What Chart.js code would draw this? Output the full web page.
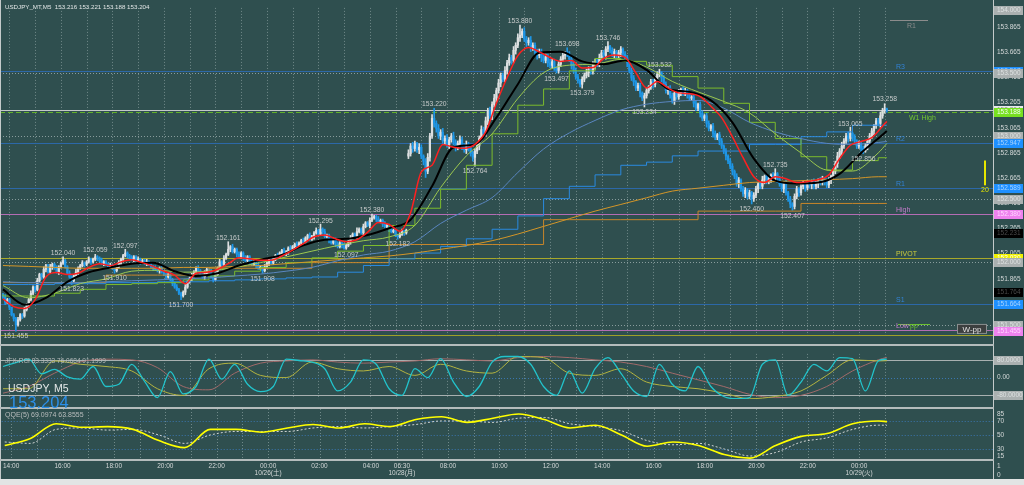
<!DOCTYPE html>
<html>
<head>
<meta charset="utf-8">
<title>USDJPY M5</title>
<script src="https://cdn.jsdelivr.net/npm/chart.js@4.4.1/dist/chart.umd.min.js"></script>
<style>
  html, body { margin: 0; padding: 0; background: #2f4f4f; overflow: hidden; }
  body { width: 1024px; height: 485px; position: relative; font-family: 'Liberation Sans', Arial, sans-serif; }
  canvas { position: absolute; left: 0; }
  .sep { position: absolute; left: 0; width: 994px; height: 2px; background: #b4bcbc; }
  #strip { position: absolute; left: 0; top: 479px; width: 1024px; height: 6px; background: #e2e4e4; }
  #sym { position: absolute; left: 8px; top: 383px; color: #e4e8e8; font-size: 10.5px; line-height: 1; }
  #last { position: absolute; left: 9px; top: 394px; color: #2b8fe8; font-size: 16.5px; line-height: 1; }
</style>
</head>
<body>
<canvas id="cMain" width="1024" height="344" style="top:0"></canvas>
<div class="sep" style="top:344px"></div>
<canvas id="cRci" width="1024" height="61" style="top:346px"></canvas>
<div class="sep" style="top:407px"></div>
<canvas id="cQqe" width="1024" height="70" style="top:409px"></canvas>
<div id="strip"></div>
<div id="sym"></div>
<div id="last"></div>
<script>
// ---------- data (prices in pips above 150.00, i.e. 322 = 153.22) ----------
const symbolName = 'USDJPY_MT,M5';
const symbolShort = 'USDJPY, M5';
const lastBar = [153.216, 153.221, 153.188, 153.204];   // O H L C of the last bar

const closePips = [
  172,168,170,164,158,155,150,154,158,157, 162,166,170,175,180,178,185,190,188,194,
  197,192,196,198,195,192,196,199,201,196, 191,188,185,189,192,195,197,199,198,200,
  202,200,202,204,203,201,199,200,198,196, 197,195,193,196,199,202,205,207,205,203,
  202,204,201,202,200,201,199,200,198,196, 195,194,193,195,192,190,188,190,186,183,
  180,178,175,173,176,180,184,187,189,192, 195,193,190,188,191,194,192,188,186,190,
  195,200,198,203,206,210,212,208,210,206, 204,207,203,201,204,200,198,201,197,195,
  196,193,196,199,201,199,203,205,204,207, 209,206,208,211,210,212,214,213,215,217,
  216,219,221,218,220,223,225,222,226,224, 220,221,217,215,218,214,212,215,213,211,
  213,216,219,222,220,224,226,223,228,231, 229,233,235,236,234,232,233,230,228,229,
  226,224,225,221,220,222,224,223,225,286, 292,290,294,289,291,284,280,272,283,300,
  314,310,306,300,303,296,298,293,297,300, 295,291,294,297,292,289,293,290,286,283,
  288,292,298,305,302,312,320,316,325,330, 336,342,348,345,352,358,362,360,368,372,
  378,380,383,377,374,376,370,372,366,364, 367,362,360,363,358,356,359,354,352,357,
  361,364,366,365,361,356,352,347,344,341, 345,348,350,353,351,356,359,357,362,366,
  364,369,371,368,365,367,364,366,369,365, 362,358,352,346,343,338,340,334,330,332,
  336,339,343,341,346,349,350,346,341,336, 338,332,328,334,331,335,337,334,336,333,
  330,331,326,322,325,318,314,316,310,306, 308,302,299,301,296,292,288,284,280,276,
  272,268,262,265,258,254,257,252,255,250, 253,258,262,260,265,268,264,266,269,267,
  270,266,262,258,263,255,250,246,244,252, 258,255,260,262,259,263,261,264,260,262,
  265,263,266,264,261,265,268,272,278,284, 288,292,296,300,298,302,299,296,292,294,
  290,288,292,296,300,304,308,312,310,316, 320,321.6,320.4
];
const upWick = [
  1,2,1,1,0,1,1,2,1,1, 2,1,1,2,1,1,2,1,1,2, 1,1,2,1,1,2,1,1,3,1, 1,2,1,1,2,1,1,2,1,1,
  2,1,1,2,1,1,2,1,1,1, 2,1,1,1,2,1,1,3,1,1, 2,1,1,2,1,1,1,2,1,1, 1,2,1,1,2,1,1,1,2,1,
  1,2,1,1,1,2,1,1,2,1, 1,2,1,1,2,1,1,2,1,2, 1,2,1,2,1,6,1,2,1,1, 2,1,1,2,1,1,2,1,1,2,
  1,1,2,1,1,2,1,1,2,1, 1,2,1,1,2,1,1,2,1,1, 2,1,1,2,1,1,2,1,4,1, 2,1,1,2,1,1,2,1,1,2,
  1,1,2,1,1,3,1,1,2,1, 1,2,3,1,1,2,1,1,2,1, 1,2,1,1,1,1,2,1,1,3, 2,3,2,1,3,2,1,2,3,2,
  3,8,2,3,2,3,2,3,2,2, 3,2,2,3,2,2,3,2,2,2, 2,3,2,3,2,3,2,3,2,3, 2,3,2,2,3,2,3,2,3,2,
  3,8,2,3,2,2,3,2,2,3, 2,2,3,2,2,3,2,2,1,2, 2,3,1,4,2,2,3,2,2,1, 2,2,3,2,2,3,2,2,3,2,
  2,2,4,1,2,2,1,2,2,1, 2,2,1,2,2,1,2,2,1,2, 2,1,2,2,1,2,3,1,2,2, 1,2,2,1,2,2,1,2,2,1,
  2,1,2,2,1,2,2,1,2,2, 1,2,2,1,2,2,1,2,1,2, 2,1,2,2,1,2,2,1,2,1, 2,2,1,2,3,1,2,2,1,2,
  4,1,2,2,1,2,1,2,1,2, 2,1,2,2,1,2,2,1,2,2, 1,2,2,1,2,2,1,2,2,3, 2,3,2,2,3,5,1,2,1,2,
  1,2,2,1,2,2,1,2,2,3, 2,4,0.5
];
const downWick = [
  1,2,1,2,1,2,5,1,1,2, 1,1,2,1,1,2,1,1,2,1, 2,1,1,2,1,1,2,1,1,1, 1,1,3,1,1,2,1,1,2,1,
  1,2,1,1,2,1,1,2,1,1, 1,1,2,1,1,2,1,1,2,1, 1,2,1,1,2,1,1,2,1,1, 2,1,1,2,1,1,2,1,1,2,
  1,1,1,3,1,2,1,1,2,1, 1,2,1,1,2,1,2,1,2,1, 1,1,2,1,1,1,2,1,1,2, 1,1,2,1,1,2,1,1,2,1,
  1,2,1,1,2,1,1,2,1,1, 2,1,1,2,1,1,2,1,1,2, 1,1,2,1,1,2,1,1,1,2, 1,1,2,1,1,2,1,1,2,1,
  1,1,2,1,1,2,1,1,2,1, 1,2,1,1,2,1,1,2,1,1, 2,1,1,1,2,1,1,2,1,2, 2,3,2,2,3,2,3,5,2,3,
  2,3,3,2,3,2,3,2,3,2, 2,3,2,2,3,2,3,2,2,3, 7,2,3,2,3,2,3,2,3,2, 3,2,3,2,2,3,2,3,2,3,
  2,3,2,2,3,2,3,2,2,3, 2,3,2,2,3,2,2,2,2,2, 2,2,3,2,2,3,2,2,2,2, 3,2,2,3,2,2,3,2,2,2,
  2,3,2,2,2,3,2,2,3,2, 2,3,2,2,3,2,2,3,2,7, 2,2,2,3,2,2,2,3,2,2, 3,2,2,3,2,2,3,2,2,3,
  2,2,3,2,2,3,2,2,3,2, 2,3,2,2,3,2,2,3,2,2, 3,2,2,3,2,2,3,2,2,4, 2,2,3,2,2,3,2,2,3,2,
  2,3,2,2,3,2,2,3,3,2, 2,3,2,2,3,2,2,3,2,2, 3,2,2,3,2,2,3,2,2,3, 2,3,2,2,3,2,3,2,2,2,
  2,2,1,3,2,2,3,2,2,3, 2,2,1.6
];
const openGap = { 0: 174, 189: 284 };   // bars whose open is not the previous close (weekend gap)

// moving averages at knots (bar index)
const fastIdx = [0,5,10,15,20,25,30,35,40,45,50,55,60,65,70,75,80,85,90,95,100,105,110,115,120,125,130,135,140,145,150,155,160,165,170,175,180,185,190,195,200,205,210,215,220,225,230,235,240,245,250,255,260,265,270,275,280,285,290,295,300,305,310,315,320,325,330,335,340,345,350,355,360,365,370,375,380,385,390,395,400,405,410,412];
const maRed = [170.6,164.5,163,170,188,191.5,190,191,195.6,198.6,197,200,201.6,199.4,196.4,192.6,189.5,182.7,191,191.8,194,198.6,203.2,202.4,201.3,201.3,204.7,209.3,214.5,219.9,221.4,218.3,216,217.6,223.6,231.2,229.7,224.4,239,271.4,276.7,293.3,291,290.3,293.3,303.2,326,346.4,363.8,370.3,366.8,362.3,359.2,360,354,354.3,361.5,364.2,362.3,350.2,338.1,343.3,338.1,334.2,333.5,331.2,323.6,314.5,299.4,282.7,267.6,263,267.6,266,263,263.8,265.3,269.1,282,292.6,295.6,298.6,307.7,311.5];
const slowIdx = [0,10,20,30,40,50,60,70,80,90,100,110,120,130,140,150,160,170,180,190,200,210,220,230,240,250,260,270,280,290,300,310,320,330,340,350,360,370,380,390,400,410,412];
const maBlack = [178.2,166,171.4,184.2,191.8,195.6,198.6,199.4,192.6,188.8,191,197.1,201.7,205.5,213.1,217.6,218.3,221.4,226.7,233.5,260,291,293.3,314.5,341.1,366.1,366.8,359.2,357,360,352.4,337.3,335,328.2,310.8,282,264.5,262.2,263,269.9,286.5,300.9,304];
const hourIdx = [0,12,24,36,48,60,72,84,96,108,120,132,144,156,168,180,192,204,216,228,240,252,264,276,288,300,312,324,336,348,360,372,384,396,408,412];
const maGreen = [181.2,171.4,175.1,182.7,186.5,192.6,193.3,191.8,192.6,195.6,199.4,203.9,208.5,213,216.8,219.8,229,259,284.2,301.7,329.7,350.2,356.2,357,360.8,354.7,343.3,335,327.4,318.3,301.7,286.5,272.9,272.1,286.5,294];
const maBlue = [184.2,183.5,183.5,183.5,184.2,185,185.7,186.5,187.3,188.8,190.3,192.6,195.6,200.9,205.5,208.5,216,230.5,241,251,271,289.6,302.4,312.3,320.6,325.2,327.4,328.2,322.1,310.8,303.2,297.9,294.1,293.3,294.8,295.6];
const maOrange = [197.1,196.4,195.6,194.9,194.9,194.9,194.9,195.6,195.6,196.4,197.1,198.6,200.1,201.7,203.2,204.7,207,210,213,216.8,222.1,228.2,234.3,240.3,245.6,250.9,256.2,258.5,260.8,263,263.8,264.5,265.3,266.1,267.6,267.6];
const stepBlue = [182,182,182,182.7,182.7,183.5,183.5,184.2,184.2,185,185.7,186.5,187.3,188,191.8,197.1,202.4,207,212.3,218.3,225.9,236.5,250.2,260,269.1,276.7,279.2,284.2,288,288,293.3,293.3,299.4,303.2,308.5,308.5];
const stepGreen = [174.4,172.9,172.9,175.1,178.2,182,182.7,183.5,185.7,188.8,192.6,195.6,199.4,203.2,208.5,213,228.9,242.6,257.7,276.7,301.7,324.4,337.3,351.7,361.5,359.2,356.2,347.1,338,325.9,310.8,297.9,283.5,272.9,280.4,282.7];
const stepOrange = [183.5,183.5,183.5,183.5,183.5,189.5,189.5,189.5,189.5,194.9,194.9,194.9,194.9,199.4,199.4,199.4,213.8,213.8,213.8,213.8,213.8,213.8,233.5,233.5,233.5,233.5,233.5,233.5,240.3,240.3,240.3,240.3,246.4,246.4,246.4,246.4];

// RCI sub window
const rciIdx = [0,6,12,18,24,30,36,42,48,54,60,66,72,78,84,90,96,102,108,114,120,126,132,138,144,150,156,162,168,174,180,186,192,198,204,210,216,222,228,234,240,246,252,258,264,270,276,282,288,294,300,306,312,318,324,330,336,342,348,354,360,366,372,378,384,390,396,402,408,412];
const rciShort = [50,67,83,17,37,3,-7,50,-40,-30,60,-17,-90,27,-73,-40,83,-7,60,-30,-63,-40,83,77,70,40,-60,-20,80,60,-50,-80,40,0,85,-20,-85,-40,70,95,95,60,-40,-80,30,-70,40,90,20,-60,-85,60,-30,-60,50,-40,-85,-95,-90,60,80,-80,-20,60,30,90,85,-60,75,83.33];
const rciMid = [-50,-50,75,60,50,30,-50,-80,40,65,10,0,70,40,30,50,10,60,30,20,95,90,20,10,40,-20,-40,-50,-70,-95,-85,-60,10,80,75,76.07];
const rciLong = [-70,-40,20,70,83,80,45,-40,-55,20,65,75,80,70,65,70,75,85,80,75,90,95,90,80,70,50,20,-10,-40,-75,-90,-80,-40,30,80,91.2];
const rciTitle = 'JFX-RCI 83.3333 76.0684 91.1999';

// QQE sub window
const qqeLine = [35,45,66,61,62,58,42,32,58,58,54,60,65,60,66,62,72,76,68,74,80,72,60,64,50,34,40,35,22,17,35,48,52,66,70,69.1];
const qqeTrail = [40,38,58,60,57,58,50,38,50,55,55,55,60,62,60,62,65,70,70,68,74,75,66,62,56,42,36,38,30,20,25,40,46,58,64,63.9];
const qqeTitle = 'QQE(5) 69.0974 63.8555';

// zigzag swing labels (alternating low / high)
const zzIdx = [6,28,32,43,52,57,83,105,121,148,160,172,184,201,220,241,258,263,270,282,299,306,349,360,368,395,401,411];
const zzPrice = [151.455,152.040,151.823,152.059,151.910,152.097,151.700,152.161,151.908,152.295,152.097,152.380,152.182,153.220,152.764,153.880,153.497,153.698,153.379,153.746,153.234,153.532,152.460,152.735,152.407,153.065,152.856,153.258];

// pivot levels
const levelNames = ['R3','W1 High','R2','R1','High','PIVOT','S1','Low','W-pp'];
const levelPrices = [153.517,153.188,152.947,152.589,152.380,152.030,151.664,151.458,151.420];
const stubNames = ['R1','pp'];
const stubPrices = [153.918,151.505];
const roundLevels = [153.5,153.0,152.5,152.0,151.5];
const spreadPoints = 20;

// price axis
const priceTicks = [153.865,153.665,153.465,153.265,153.065,152.865,152.665,152.465,152.265,152.065,151.865,151.665,151.465];
const tagPrices = [154.000,153.517,153.500,153.204,153.188,153.000,152.947,152.589,152.500,152.380,152.231,152.030,152.000,151.764,151.664,151.500,151.455];
const tagKinds = ['grid','R','grid','bid','W1','grid','R','R','grid','HL','ind','P','grid','ind','R','grid','HL'];

// time axis
const timeTickIdx = [3,27,51,75,99,123,147,171,185.5,207,231,255,279,303,327,351,375,399];
const timeTickText = ['14:00','16:00','18:00','20:00','22:00',['00:00','10/26(土)'],'02:00','04:00',['06:30','10/28(月)'],'08:00','10:00','12:00','14:00','16:00','18:00','20:00','22:00',['00:00','10/29(火)']];
const hourLines = [3,15,27,39,51,63,75,87,99,111,123,135,147,159,171,183,195,207,219,231,243,255,267,279,291,303,315,327,339,351,363,375,387,399,411];

// ---------- styles ----------
const fam = "'Liberation Sans', 'Noto Sans CJK JP', Arial, sans-serif";
const f = s => s + 'px ' + fam;
const price = v => 150 + v / 100;
const levelStyle = {
  'R3':      { line: '#2c68a8', text: '#3282d4', dx: 97 },
  'W1 High': { line: '#62b02a', text: '#74c632', dx: 84, dash: [5, 3], below: true },
  'R2':      { line: '#2c68a8', text: '#3282d4', dx: 97 },
  'R1':      { line: '#2c68a8', text: '#3282d4', dx: 97 },
  'High':    { line: '#b46cb4', text: '#c47ccc', dx: 97 },
  'PIVOT':   { line: '#a8a82a', text: '#cccc3c', dx: 97 },
  'S1':      { line: '#2c68a8', text: '#3282d4', dx: 97 },
  'Low':     { line: '#b46cb4', text: '#c47ccc', dx: 97 },
  'W-pp':    { line: '#a0a028', box: true }
};
const stubStyle = {
  'R1': { line: '#8c8c8c', text: '#8c8c8c', x0: 103, x1: 65, dx: 86, below: true },
  'pp': { line: '#6cc030', text: '#6cc030', x0: 95, x1: 63, dx: 83, below: false }
};
const tagStyle = {
  grid: ['#aab0b0', '#dde1e1'],
  R:    ['#1e90ff', '#a8d4ff'],
  bid:  ['#e8eaea', '#8a8e8e'],
  W1:   ['#78e020', '#f0fff0'],
  HL:   ['#ee82ee', '#ffd6ff'],
  ind:  ['#000000', '#4a4a4a'],
  P:    ['#f0f000', '#fffff4']
};
const BULL = '#dcdfe0', BEAR = '#1e96e6';

document.getElementById('sym').textContent = symbolShort;
document.getElementById('last').textContent = lastBar[3].toFixed(3);

// ---------- candles ----------
const opens = closePips.map((c, i) => (i in openGap) ? openGap[i] : closePips[i - 1]);
const highs = closePips.map((c, i) => price(Math.max(opens[i], c) + upWick[i]));
const lows = closePips.map((c, i) => price(Math.min(opens[i], c) - downWick[i]));
const barColors = closePips.map((c, i) => c >= opens[i] ? BULL : BEAR);
const wickData = closePips.map((c, i) => ({ x: i, y: [lows[i], highs[i]] }));
const bodyData = closePips.map((c, i) => ({ x: i, y: [price(Math.min(opens[i], c)), price(Math.max(opens[i], c))] }));

const xMin = -1.4, xMax = 461.5;
const yMax = 154.0167, yMin = 151.4106;

Chart.defaults.font.family = fam;

const lineDs = (idx, vals, color, width, order, extra) => Object.assign({
  type: 'line',
  data: idx.map((x, k) => ({ x, y: vals[k] })),
  borderColor: color, borderWidth: width,
  pointRadius: 0, fill: false, tension: 0.4, cubicInterpolationMode: 'monotone', order
}, extra || {});

const hLine = (ctx, x0, x1, py) => {
  const yy = Math.round(py) + 0.5;
  ctx.beginPath(); ctx.moveTo(x0, yy); ctx.lineTo(x1, yy); ctx.stroke();
};
const tag = (chart, py, text, kind) => {
  const { ctx, chartArea: a } = chart;
  const [bg, fg] = tagStyle[kind];
  ctx.fillStyle = bg;
  ctx.fillRect(a.right + 1, Math.round(py) - 4, chart.width - a.right - 2, 9);
  ctx.fillStyle = fg;
  ctx.font = f(6.5);
  ctx.textAlign = 'left';
  ctx.textBaseline = 'middle';
  ctx.fillText(text, a.right + 4, Math.round(py) + 0.5);
};
const axisLine = chart => {
  const { ctx, chartArea: a } = chart;
  ctx.fillStyle = '#c4caca';
  ctx.fillRect(a.right, 0, 1, chart.height);
};

const hourGrid = {
  id: 'hourGrid',
  beforeDatasetsDraw(chart) {
    const { ctx, chartArea: a, scales: { x } } = chart;
    ctx.save();
    ctx.strokeStyle = 'rgba(165,185,185,0.55)';
    ctx.lineWidth = 1;
    ctx.setLineDash([1, 2]);
    hourLines.forEach(i => {
      const px = Math.round(x.getPixelForValue(i)) + 0.5;
      ctx.beginPath(); ctx.moveTo(px, a.top); ctx.lineTo(px, a.bottom); ctx.stroke();
    });
    ctx.restore();
  }
};

const mainDecor = {
  id: 'mainDecor',
  beforeDatasetsDraw(chart) {
    const { ctx, chartArea: a, scales: { y } } = chart;
    ctx.save();
    ctx.beginPath(); ctx.rect(a.left, a.top, a.right - a.left, a.bottom - a.top); ctx.clip();
    ctx.lineWidth = 1;
    ctx.setLineDash([1, 2]);
    ctx.strokeStyle = 'rgba(175,190,190,0.7)';
    roundLevels.forEach(p => hLine(ctx, a.left, a.right, y.getPixelForValue(p)));
    levelNames.forEach((n, k) => {
      const st = levelStyle[n];
      ctx.setLineDash(st.dash || []);
      ctx.strokeStyle = st.line;
      hLine(ctx, a.left, a.right, y.getPixelForValue(levelPrices[k]));
    });
    ctx.setLineDash([]);
    ctx.strokeStyle = '#c4c8c8';
    hLine(ctx, a.left, a.right, y.getPixelForValue(lastBar[3]));
    stubNames.forEach((n, k) => {
      const st = stubStyle[n];
      ctx.strokeStyle = st.line;
      hLine(ctx, a.right - st.x0, a.right - st.x1, y.getPixelForValue(stubPrices[k]));
    });
    ctx.restore();
  },
  afterDatasetsDraw(chart) {
    const { ctx, chartArea: a, scales: { x, y } } = chart;
    ctx.save();
    // swing labels
    ctx.font = f(6.8);
    ctx.fillStyle = '#c6caca';
    ctx.textAlign = 'center';
    zzIdx.forEach((i, k) => {
      const px = x.getPixelForValue(i), py = y.getPixelForValue(zzPrice[k]);
      if (k % 2 === 0) { ctx.textBaseline = 'top'; ctx.fillText(zzPrice[k].toFixed(3), px, py + 2); }
      else { ctx.textBaseline = 'alphabetic'; ctx.fillText(zzPrice[k].toFixed(3), px, py - 2); }
    });
    // level captions
    ctx.textAlign = 'left';
    ctx.font = f(7);
    levelNames.forEach((n, k) => {
      const st = levelStyle[n];
      const py = y.getPixelForValue(levelPrices[k]);
      if (st.box) {
        ctx.fillStyle = '#3c3f3f';
        ctx.fillRect(a.right - 36, py - 11, 30, 10);
        ctx.strokeStyle = '#8a9090';
        ctx.strokeRect(a.right - 35.5, py - 10.5, 29, 9);
        ctx.fillStyle = '#e4e4e4';
        ctx.font = f(8);
        ctx.textAlign = 'center';
        ctx.textBaseline = 'middle';
        ctx.fillText(n, a.right - 21, py - 5.5);
        ctx.textAlign = 'left';
        ctx.font = f(7);
        return;
      }
      ctx.fillStyle = st.text;
      if (st.below) { ctx.textBaseline = 'top'; ctx.fillText(n, a.right - st.dx, py + 2); }
      else { ctx.textBaseline = 'alphabetic'; ctx.fillText(n, a.right - st.dx, py - 2); }
    });
    stubNames.forEach((n, k) => {
      const st = stubStyle[n];
      const py = y.getPixelForValue(stubPrices[k]);
      ctx.fillStyle = st.text;
      if (st.below) { ctx.textBaseline = 'top'; ctx.fillText(n, a.right - st.dx, py + 2); }
      else { ctx.textBaseline = 'alphabetic'; ctx.fillText(n, a.right - st.dx, py + 4); }
    });
    // spread marker
    const sTop = y.getPixelForValue(152.805), sBot = y.getPixelForValue(152.608);
    ctx.fillStyle = '#e6e600';
    ctx.fillRect(a.right - 9, sTop, 2, sBot - sTop);
    ctx.font = f(7);
    ctx.textAlign = 'center';
    ctx.textBaseline = 'top';
    ctx.fillText(String(spreadPoints), a.right - 8, sBot + 1);
    // header
    ctx.font = f(6.2);
    ctx.fillStyle = '#e2e6e6';
    ctx.textAlign = 'left';
    ctx.textBaseline = 'middle';
    ctx.fillText(symbolName + '  ' + lastBar.map(v => v.toFixed(3)).join(' '), 5, 7);
    ctx.restore();
  },
  afterDraw(chart) {
    const { ctx, chartArea: a, scales: { y } } = chart;
    ctx.save();
    ctx.fillStyle = '#c4caca';
    ctx.fillRect(0, 0, 1, chart.height);
    axisLine(chart);
    tagPrices.forEach((p, k) => tag(chart, y.getPixelForValue(p), p.toFixed(3), tagKinds[k]));
    ctx.restore();
  }
};

const rightAxis = extra => Object.assign({
  position: 'right',
  afterFit: s => { s.width = 31; },
  grid: { display: false, drawTicks: false },
  border: { display: false }
}, extra);

const baseOpts = {
  responsive: false, animation: false, devicePixelRatio: 1, events: [],
  layout: { padding: 0 },
  plugins: { legend: { display: false }, tooltip: { enabled: false } }
};

// ---------- main price window ----------
new Chart(document.getElementById('cMain'), {
  type: 'bar',
  data: {
    datasets: [
      lineDs(hourIdx, stepOrange.map(price), '#c8862a', 1, 8, { stepped: 'after', tension: 0 }),
      lineDs(hourIdx, stepBlue.map(price), '#2a8ae0', 1, 7, { stepped: 'after', tension: 0 }),
      lineDs(hourIdx, stepGreen.map(price), '#7cbc2c', 1, 6, { stepped: 'after', tension: 0 }),
      lineDs(hourIdx, maOrange.map(price), '#d49628', 1, 5),
      lineDs(hourIdx, maBlue.map(price), '#5a86c0', 1, 4),
      lineDs(hourIdx, maGreen.map(price), '#9cc850', 1, 3),
      lineDs(slowIdx, maBlack.map(price), '#000000', 2, 1),
      lineDs(fastIdx, maRed.map(price), '#ff2020', 1.5, 0),
      { type: 'bar', data: wickData, backgroundColor: barColors, barThickness: 1, grouped: false, order: 11 },
      { type: 'bar', data: bodyData, backgroundColor: barColors, barThickness: 1.6, minBarLength: 1, grouped: false, order: 10 }
    ]
  },
  options: Object.assign({}, baseOpts, {
    scales: {
      x: { type: 'linear', min: xMin, max: xMax, display: false, offset: false },
      y: rightAxis({
        min: yMin, max: yMax,
        afterBuildTicks: s => { s.ticks = priceTicks.map(v => ({ value: v })); },
        ticks: { color: '#d4d8d8', font: { size: 6.5 }, padding: 4, autoSkip: false, callback: v => Number(v).toFixed(3) }
      })
    }
  }),
  plugins: [hourGrid, mainDecor]
});

// ---------- RCI window ----------
const rciDecor = {
  id: 'rciDecor',
  beforeDatasetsDraw(chart) {
    const { ctx, chartArea: a, scales: { y } } = chart;
    ctx.save();
    ctx.lineWidth = 1;
    ctx.strokeStyle = '#a8b0b0';
    [80, -80].forEach(v => hLine(ctx, a.left, a.right, y.getPixelForValue(v)));
    ctx.setLineDash([1, 2]);
    ctx.strokeStyle = '#3a76b0';
    hLine(ctx, a.left, a.right, y.getPixelForValue(0));
    ctx.restore();
  },
  afterDatasetsDraw(chart) {
    const { ctx, chartArea: a } = chart;
    ctx.save();
    ctx.font = f(6.5);
    ctx.fillStyle = '#b8bcbc';
    ctx.textAlign = 'left';
    ctx.textBaseline = 'middle';
    ctx.fillText(rciTitle, 5, a.top + 7);
    ctx.restore();
  },
  afterDraw(chart) {
    const { ctx, scales: { y } } = chart;
    ctx.save();
    ctx.fillStyle = '#c4caca';
    ctx.fillRect(0, 0, 1, chart.height);
    axisLine(chart);
    tag(chart, y.getPixelForValue(80), '80.0000', 'grid');
    tag(chart, y.getPixelForValue(-80), '-80.0000', 'grid');
    ctx.restore();
  }
};
new Chart(document.getElementById('cRci'), {
  type: 'line',
  data: {
    datasets: [
      lineDs(hourIdx, rciLong, '#a26a6a', 1, 2),
      lineDs(hourIdx, rciMid, '#b4b440', 1, 1),
      lineDs(rciIdx, rciShort, '#22c4cc', 1.3, 0)
    ]
  },
  options: Object.assign({}, baseOpts, {
    scales: {
      x: { type: 'linear', min: xMin, max: xMax, display: false, offset: false },
      y: rightAxis({
        min: -96.7, max: 106.7,
        afterBuildTicks: s => { s.ticks = [{ value: 0 }]; },
        ticks: { color: '#d4d8d8', font: { size: 6.5 }, padding: 4, callback: () => '0.00' }
      })
    }
  }),
  plugins: [hourGrid, rciDecor]
});

// ---------- QQE window ----------
const qqeLevels = [70, 50, 30];
const qqeAxisLabels = [85, 70, 50, 30, 15];
const qqeDecor = {
  id: 'qqeDecor',
  beforeDatasetsDraw(chart) {
    const { ctx, chartArea: a, scales: { y } } = chart;
    ctx.save();
    ctx.lineWidth = 1;
    ctx.setLineDash([1, 2]);
    ctx.strokeStyle = '#3a76b0';
    qqeLevels.forEach(v => hLine(ctx, a.left, a.right, y.getPixelForValue(v)));
    ctx.restore();
  },
  afterDraw(chart) {
    const { ctx, chartArea: a, scales: { y } } = chart;
    ctx.save();
    ctx.fillStyle = '#c4caca';
    ctx.fillRect(0, 0, 1, chart.height);
    axisLine(chart);
    ctx.fillStyle = '#b4bcbc';
    ctx.fillRect(0, a.bottom, a.right + 1, 2);
    ctx.font = f(7);
    ctx.fillStyle = '#b8bcbc';
    ctx.textAlign = 'left';
    ctx.textBaseline = 'middle';
    ctx.fillText(qqeTitle, 5, a.top + 6);
    ctx.font = f(6.5);
    ctx.fillStyle = '#d4d8d8';
    qqeAxisLabels.forEach(v => {
      const py = Math.min(Math.max(y.getPixelForValue(v), a.top + 5), a.bottom - 3);
      ctx.fillText(String(v), a.right + 4, py);
    });
    ctx.fillText('1', a.right + 4, a.bottom + 7);
    ctx.fillText('0', a.right + 4, a.bottom + 16);
    ctx.restore();
  }
};
new Chart(document.getElementById('cQqe'), {
  type: 'line',
  data: {
    datasets: [
      lineDs(hourIdx, qqeTrail, '#d0d4d4', 1, 1, { borderDash: [2, 2] }),
      lineDs(hourIdx, qqeLine, '#ffff00', 1.6, 0)
    ]
  },
  options: Object.assign({}, baseOpts, {
    scales: {
      x: {
        type: 'linear', min: xMin, max: xMax, offset: false, position: 'bottom',
        afterFit: s => { s.height = 20; },
        afterBuildTicks: s => { s.ticks = timeTickIdx.map(v => ({ value: v })); },
        grid: { display: false, drawTicks: false },
        border: { display: false },
        ticks: { color: '#d4d8d8', font: { size: 6.5 }, padding: 3, autoSkip: false, maxRotation: 0,
                 callback: (v, i) => timeTickText[i] }
      },
      y: rightAxis({ min: 15.7, max: 87.1, ticks: { display: false } })
    }
  }),
  plugins: [hourGrid, qqeDecor]
});
</script>
</body>
</html>
